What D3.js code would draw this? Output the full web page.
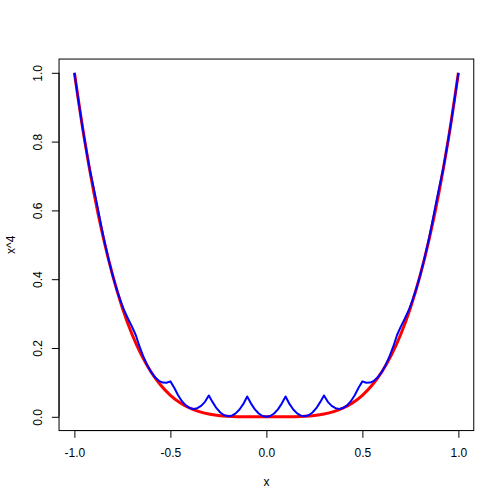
<!DOCTYPE html>
<html>
<head>
<meta charset="utf-8">
<script src="https://cdn.jsdelivr.net/npm/d3@7"></script>
<style>
  html, body { margin: 0; padding: 0; background: #fff; }
  text { font-family: "Liberation Sans", Arial, Helvetica, sans-serif; font-size: 12px; fill: #000; }
</style>
</head>
<body>
<script>
// ---- data ----
const redX = [-1.00,-0.95,-0.90,-0.85,-0.80,-0.75,-0.70,-0.65,-0.60,-0.55,-0.50,-0.45,-0.40,-0.35,-0.30,-0.25,-0.20,-0.15,-0.10,-0.05,
  0.00,0.05,0.10,0.15,0.20,0.25,0.30,0.35,0.40,0.45,0.50,0.55,0.60,0.65,0.70,0.75,0.80,0.85,0.90,0.95,1.00];
const redY = [1.0000,0.8145,0.6561,0.5220,0.4096,0.3164,0.2401,0.1785,0.1296,0.0915,0.0625,0.0410,0.0256,0.0150,0.0081,0.0039,0.0016,0.0005,0.0001,0.0000,
  0.0000,0.0000,0.0001,0.0005,0.0016,0.0039,0.0081,0.0150,0.0256,0.0410,0.0625,0.0915,0.1296,0.1785,0.2401,0.3164,0.4096,0.5220,0.6561,0.8145,1.0000];

const blueX = [-1.00,-0.98,-0.96,-0.94,-0.92,-0.90,-0.88,-0.86,-0.84,-0.82,-0.80,-0.78,-0.76,-0.74,-0.72,-0.70,-0.68,-0.66,-0.64,-0.62,
  -0.60,-0.58,-0.56,-0.54,-0.52,-0.50,-0.48,-0.46,-0.44,-0.42,-0.40,-0.38,-0.36,-0.34,-0.32,-0.30,-0.28,-0.26,-0.24,-0.22,
  -0.20,-0.18,-0.16,-0.14,-0.12,-0.10,-0.08,-0.06,-0.04,-0.02,0.00,0.02,0.04,0.06,0.08,0.10,0.12,0.14,0.16,0.18,
  0.20,0.22,0.24,0.26,0.28,0.30,0.32,0.34,0.36,0.38,0.40,0.42,0.44,0.46,0.48,0.50,0.52,0.54,0.56,0.58,
  0.60,0.62,0.64,0.66,0.68,0.70,0.72,0.74,0.76,0.78,0.80,0.82,0.84,0.86,0.88,0.90,0.92,0.94,0.96,0.98,1.00];
const blueY = [1.0000,0.9224,0.8496,0.7816,0.7184,0.6670,0.6118,0.5541,0.5011,0.4530,0.4096,0.3710,0.3373,0.3083,0.2842,0.2620,0.2371,0.2030,0.1738,0.1493,
  0.1296,0.1147,0.1046,0.0994,0.0989,0.1030,0.0845,0.0626,0.0454,0.0331,0.0256,0.0229,0.0250,0.0318,0.0435,0.0620,0.0426,0.0251,0.0125,0.0046,
  0.0016,0.0034,0.0099,0.0213,0.0374,0.0590,0.0384,0.0216,0.0096,0.0024,0.0000,0.0024,0.0096,0.0216,0.0384,0.0590,0.0374,0.0213,0.0099,0.0034,
  0.0016,0.0046,0.0125,0.0251,0.0426,0.0620,0.0435,0.0318,0.0250,0.0229,0.0256,0.0331,0.0454,0.0626,0.0845,0.1030,0.0989,0.0994,0.1046,0.1147,
  0.1296,0.1493,0.1738,0.2030,0.2371,0.2620,0.2842,0.3083,0.3373,0.3710,0.4096,0.4530,0.5011,0.5541,0.6118,0.6670,0.7184,0.7816,0.8496,0.9224,1.0000];

const xTicks = [-1.0, -0.5, 0.0, 0.5, 1.0];
const xTickLabels = ["-1.0", "-0.5", "0.0", "0.5", "1.0"];
const yTicks = [0.0, 0.2, 0.4, 0.6, 0.8, 1.0];
const yTickLabels = ["0.0", "0.2", "0.4", "0.6", "0.8", "1.0"];
const xTitle = "x";
const yTitle = "x^4";

// ---- layout ----
const W = 504, H = 504;
const L = 59.04, R = 473.76, T = 59.04, B = 430.56;

const svg = d3.select("body").append("svg")
  .attr("width", W).attr("height", H)
  .style("display", "block");

const x = d3.scaleLinear().domain([-1.08, 1.08]).range([L, R]);
const y = d3.scaleLinear().domain([-0.04, 1.04]).range([B, T]);

// curves
const red = redX.map((v, i) => [v, redY[i]]);
const blue = blueX.map((v, i) => [v, blueY[i]]);

svg.append("path")
  .datum(red)
  .attr("fill", "none")
  .attr("stroke", "#FF0000")
  .attr("stroke-width", 3)
  .attr("d", d3.line().x(d => x(d[0])).y(d => y(d[1])).curve(d3.curveMonotoneX));

svg.append("path")
  .datum(blue)
  .attr("fill", "none")
  .attr("stroke", "#0000FF")
  .attr("stroke-width", 2)
  .attr("stroke-linejoin", "round")
  .attr("d", d3.line().x(d => x(d[0])).y(d => y(d[1])));

// box
svg.append("rect")
  .attr("x", L).attr("y", T)
  .attr("width", R - L).attr("height", B - T)
  .attr("fill", "none").attr("stroke", "#000").attr("stroke-width", 1);

// x axis
const gx = svg.append("g").attr("transform", `translate(0,${B})`)
  .call(d3.axisBottom(x).tickValues(xTicks).tickSize(7.2)
    .tickFormat((d, i) => xTickLabels[i]));
gx.select(".domain").remove();
gx.append("line")
  .attr("x1", x(xTicks[0])).attr("x2", x(xTicks[xTicks.length - 1]))
  .attr("y1", 0).attr("y2", 0).attr("stroke", "#000");
gx.selectAll(".tick line").attr("stroke", "#000");
gx.selectAll(".tick text")
  .attr("y", 26).attr("dy", 0)
  .attr("font-family", "Liberation Sans, Arial, sans-serif")
  .attr("font-size", 12).attr("fill", "#000");

// y axis
const gy = svg.append("g").attr("transform", `translate(${L},0)`)
  .call(d3.axisLeft(y).tickValues(yTicks).tickSize(7.2)
    .tickFormat((d, i) => yTickLabels[i]));
gy.select(".domain").remove();
gy.append("line")
  .attr("y1", y(yTicks[0])).attr("y2", y(yTicks[yTicks.length - 1]))
  .attr("x1", 0).attr("x2", 0).attr("stroke", "#000");
gy.selectAll(".tick line").attr("stroke", "#000");
gy.selectAll(".tick text")
  .attr("x", 0).attr("dy", 0)
  .attr("text-anchor", "middle")
  .attr("transform", "translate(-17,0) rotate(-90)")
  .attr("font-family", "Liberation Sans, Arial, sans-serif")
  .attr("font-size", 12).attr("fill", "#000");

// titles
svg.append("text")
  .attr("x", (L + R) / 2).attr("y", 485.5)
  .attr("text-anchor", "middle")
  .text(xTitle);

svg.append("text")
  .attr("transform", `translate(15,${(T + B) / 2}) rotate(-90)`)
  .attr("text-anchor", "middle")
  .text(yTitle);
</script>
</body>
</html>
